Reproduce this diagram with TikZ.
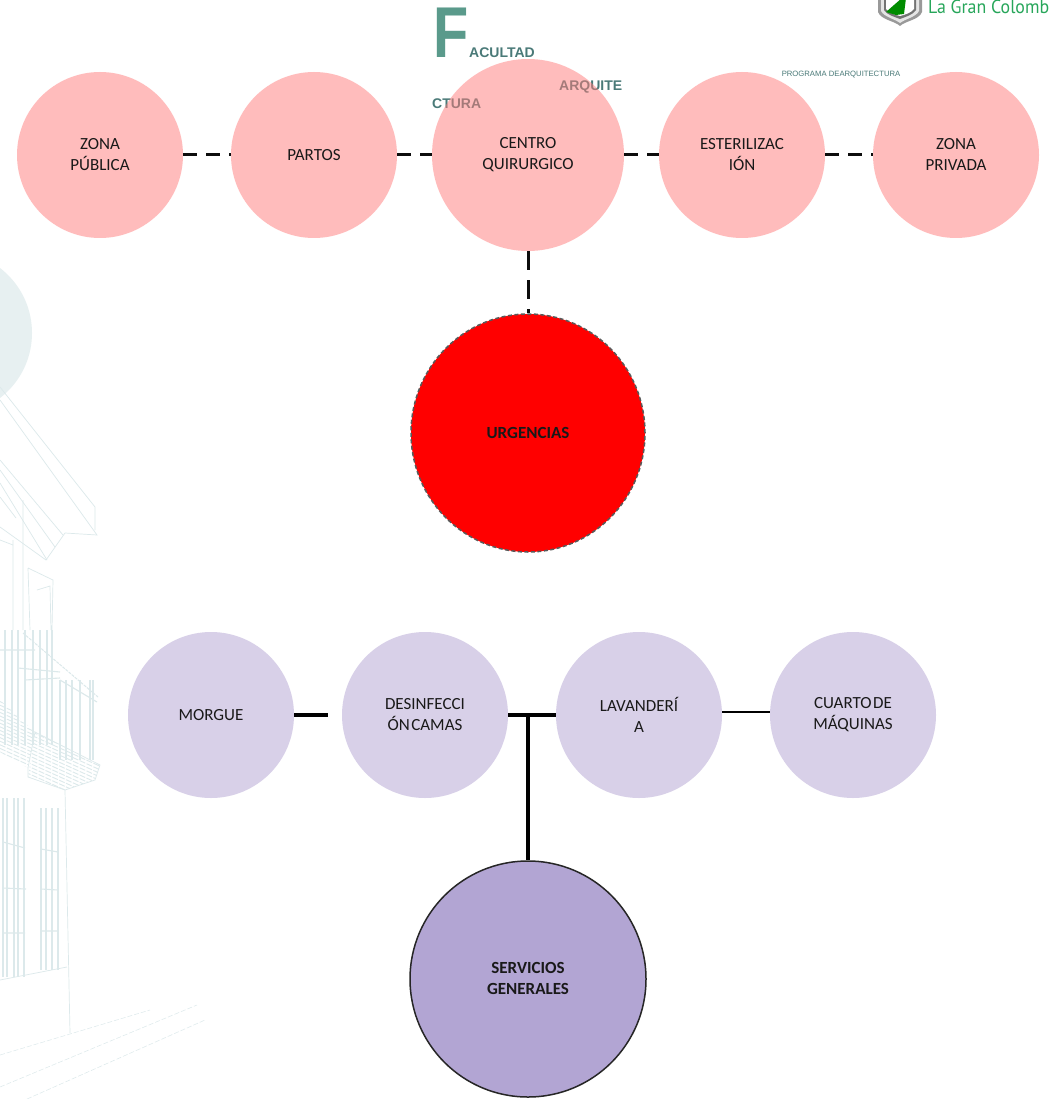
\documentclass[tikz,border=0pt]{standalone}
\usepackage{fontspec}
\usetikzlibrary{shapes.geometric}
\setmainfont{Carlito}
\newfontfamily\arialf{Liberation Sans}
\newfontfamily\logof{PT Sans}
\definecolor{faint}{HTML}{DCE9EB}
\definecolor{pinkbase}{HTML}{FF7B7B}
\definecolor{lilac}{HTML}{D8D0E8}
\definecolor{deeplilac}{HTML}{B2A5D3}
\definecolor{tealtxt}{HTML}{4A7A78}
\definecolor{fgreen}{HTML}{5A9A8B}
\definecolor{logogreen}{HTML}{27A65A}
\newcommand{\upl}[1]{\raisebox{1.5pt}{#1}}
\tikzset{
  disc/.style={circle,inner sep=0pt,align=center,font=\fontsize{17}{21}\selectfont,text=black!90},
  pinkdisc/.style={disc,minimum size=166pt,fill=pinkbase,fill opacity=.5,text opacity=1},
  lilacdisc/.style={disc,minimum size=166pt,fill=lilac},
  dashlink/.style={line width=3pt,black!95,dash pattern=on 14pt off 9pt},
  thicklink/.style={line width=4pt,black},
  bg/.style={faint,line width=.7pt},
  bgbar/.style={faint,line width=1.1pt},
  hatch/.style={faint,line width=.9pt,dash pattern=on 6pt off 1.5pt},
  head/.style={font=\arialf\bfseries\fontsize{14}{16}\selectfont,text=tealtxt,inner sep=0pt}
}
\begin{document}
\begin{tikzpicture}[x=1pt,y=-1pt]
\useasboundingbox (0,0) rectangle (1050,1099);
\fill[white] (0,0) rectangle (1050,1099);
% faint background building
\fill[faint!70] (-50,333) circle (82);
\draw[bg] (0,387)--(95,507)--(95,530) (0,400)--(97,535)--(65,533)--(46,560)--(0,527);
\draw[bg] (0,460)--(63,535) (0,470)--(55,547) (0,483)--(47,560);
\draw[bg] (28,568)--(53,580)--(52,630) (23,500)--(23,630) (13,540)--(13,630) (28,568)--(30,630) (37,590)--(50,586)--(51,630);
\draw[bg] (0,497)--(16,518) (0,540)--(13,545);
% balcony
\foreach \x in {5,12,18,25,33,40,47,52} \draw[bgbar] (\x,630)--(\x,745);
\foreach \x in {60,66,72,80,90,93} \draw[bgbar] (\x,680)--(\x,760);
\draw[bg,dash pattern=on 3pt off 1pt,line width=1pt] (23,633)--(98,697);
\draw[bgbar] (0,650)--(35,650) (18,668)--(60,672) (25,680)--(60,678) (60,680)--(97,702);
\begin{scope}
\clip (0,700)--(35,732)--(28,768)--(0,752)--cycle;
\foreach \i in {0,...,24} \draw[hatch] (0,{680+\i*3.6})--(40,{698+\i*3.6});
\end{scope}
\begin{scope}
\clip (35,732)--(100,765)--(95,780)--(65,790)--(28,777)--cycle;
\foreach \i in {0,...,24} \draw[hatch] (25,{700+\i*3.6})--(105,{736+\i*3.6});
\end{scope}
\draw[bg] (35,732)--(100,765)--(95,780)--(65,790)--(28,777)--(28,768)--cycle;
\foreach \x in {3,7,14,18,24} \draw[bgbar] (\x,798)--(\x,977);
\foreach \x in {41,46,52,58} \draw[bgbar] (\x,808)--(\x,970);
\draw[bgbar] (3,842)--(25,848) (3,888)--(26,889) (3,933)--(25,933) (41,849)--(58,852) (41,889)--(58,890) (41,931)--(58,931);
\draw[bg] (65,790)--(70,1033) (0,980)--(67,967);
\draw[bg,dash pattern=on 5pt off 2pt,line width=.5pt] (0,1055)--(150,1010) (0,1087)--(197,1005) (27,1099)--(205,1020);
% heading texts, under the translucent discs
\node[inner sep=0pt,xscale=.8,anchor=center,font=\arialf\bfseries\fontsize{72}{72}\selectfont,text=fgreen] (bigf) at (451,33) {F};
\node[head,anchor=west] (acultad) at (469,53) {ACULTAD};
\node[head,anchor=west] (arquite) at (559,87) {ARQUITE};
\node[head,anchor=west] (ctura) at (432,104) {CTURA};
\node[inner sep=0pt,font=\arialf\fontsize{7.7}{8}\selectfont,text=tealtxt] (prog) at (841,75) {PROGRAMA DEARQUITECTURA};
% logo
\fill[black!40] (878,-2)--(922,-2)--(922,12) .. controls (919,20) and (905,21) .. (900,26) .. controls (895,21) and (881,20) .. (878,12)--cycle;
\fill[black!10] (881,-2)--(919,-2)--(919,11) .. controls (916,17) and (905,19) .. (900,23) .. controls (895,19) and (884,17) .. (881,11)--cycle;
\fill[black!55] (884,-2)--(916,-2)--(916,10) .. controls (913,15) and (905,17) .. (900,19) .. controls (895,17) and (887,15) .. (884,10)--cycle;
\fill[white] (886,-2)--(914,-2)--(914,9) .. controls (911,13) and (904,15) .. (900,16) .. controls (896,15) and (889,13) .. (886,9)--cycle;
\fill[green!55!black] (886,12)--(902,-2)--(906,-2)--(904,14)--(896,15)--cycle;
\node[inner sep=0pt,anchor=west,xscale=.94,font=\logof\fontsize{19}{20}\selectfont,text=logogreen] (logo) at (928,7) {La Gran Colomb};
% discs
\node[pinkdisc] (publica) at (100,155) {\upl{ZONA}\\\upl{PÚBLICA}};
\node[pinkdisc] (partos) at (314,155) {PARTOS};
\node[pinkdisc,minimum size=192pt] (centro) at (528,155) {\upl{CENTRO}\\\upl{QUIRURGICO}};
\node[pinkdisc] (ester) at (742,155) {\upl{ESTERILIZAC}\\\upl{IÓN}};
\node[pinkdisc] (privada) at (956,155) {\upl{ZONA}\\\upl{PRIVADA}};
\node[ellipse,inner sep=0pt,minimum width=234pt,minimum height=238pt,fill=red,draw=black!65,line width=1.5pt,dash pattern=on 4pt off 2.5pt,font=\bfseries\fontsize{17}{21}\selectfont,text=black!90] (urg) at (528,433) {URGENCIAS};
\node[lilacdisc] (morgue) at (211,715) {MORGUE};
\node[lilacdisc] (desinf) at (425,715) {DESINFECCI\\ÓN\hspace{1.5pt}CAMAS};
\node[lilacdisc] (lav) at (639,715) {LAVANDERÍ\\A};
\node[lilacdisc] (cuarto) at (853,715) {CUARTO\hspace{1.5pt}DE\\MÁQUINAS};
\node[disc,minimum size=236pt,fill=deeplilac,draw=black!85,line width=1.5pt,font=\bfseries\fontsize{17}{21}\selectfont] (serv) at (528,979) {\upl{SERVICIOS}\\\upl{GENERALES}};
% connectors
\draw[dashlink] (publica.east)--(partos.west);
\draw[dashlink] (partos.east)--(centro.west);
\draw[dashlink] (centro.east)--(ester.west);
\draw[dashlink] (ester.east)--(privada.west);
\draw[dashlink,dash pattern=on 19pt off 10pt] (centro.south)--(urg.north);
\coordinate (morgueend) at (328,715);
\draw[thicklink] (morgue.east)--(morgueend);
\draw[thicklink] (desinf.east)--(lav.west);
\coordinate (junction) at (528,715);
\draw[thicklink,line width=3.5pt] (junction)--(serv.north);
\draw[thicklink,line width=2.5pt] (lav.east|-0,712)--(cuarto.west|-0,712);
\end{tikzpicture}
\end{document}
